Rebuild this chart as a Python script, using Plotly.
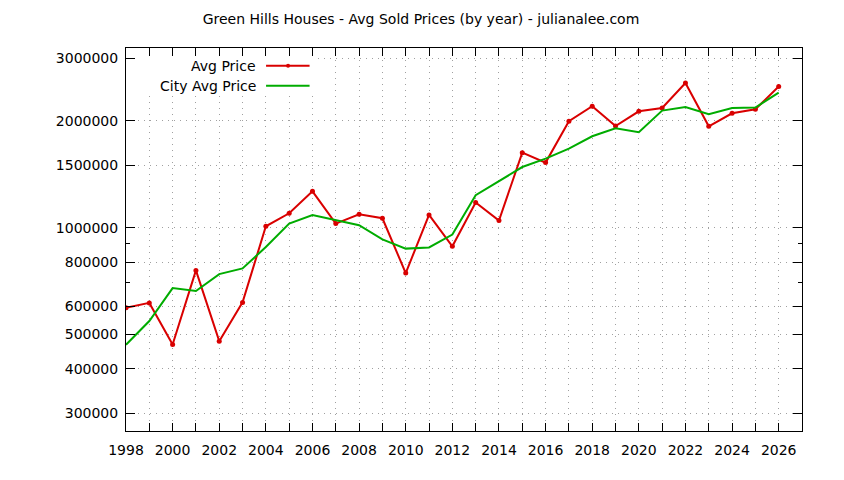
import math
import plotly.graph_objects as go

years = list(range(1998, 2027))
avg_price = [595000, 614000, 469000, 758000, 479000, 616000, 1009000, 1098000, 1266000, 1027000,
             1091000, 1063000, 745000, 1086000, 886000, 1177000, 1047000, 1627000, 1525000, 1995000,
             2198000, 1934000, 2127000, 2174000, 2556000, 1930000, 2100000, 2155000, 2497000]
city_avg_price = [468000, 546000, 676000, 663000, 740000, 768000, 882000, 1027000, 1086000, 1049000,
                  1016000, 927000, 873000, 880000, 956000, 1234000, 1351000, 1482000, 1565000, 1670000,
                  1809000, 1905000, 1857000, 2137000, 2187000, 2086000, 2174000, 2180000, 2402000]
y_ticks = [300000, 400000, 500000, 600000, 800000, 1000000, 1500000, 2000000, 3000000]
y_minor = [700000, 900000]
x_ticks = list(range(1998, 2027))
x_labels = [str(y) if y % 2 == 0 else "" for y in x_ticks]
series_names = ["Avg Price", "City Avg Price"]

RED = "#d90000"
GREEN = "#00ac00"
FONT = "DejaVu Sans"
OFF = 8  # page body margin
W, H = 844 - OFF, 480 - OFF
L, T = 126 - OFF, 48 - OFF
R = W - (801.7 - OFF)
B = H - (431 - OFF)
X_RANGE = [1998, 2027]
Y_RANGE = [math.log10(267500), math.log10(3207000)]

fig = go.Figure()
fig.add_trace(go.Scatter(x=years, y=avg_price, name=series_names[0], mode="lines+markers",
                         line=dict(color=RED, width=2), marker=dict(color=RED, size=5, symbol="circle"),
                         showlegend=False))
fig.add_trace(go.Scatter(x=years, y=city_avg_price, name=series_names[1], mode="lines",
                         line=dict(color=GREEN, width=2), showlegend=False))

pw = W - L - R
ph = H - T - B
def px_x(x):  # page px -> paper
    return (x - OFF - L) / pw
def px_y(y):
    return (H - B - (y - OFF)) / ph

# opaque key box (hides the grid behind the key, as in gnuplot); axis refs so it sits under traces
bx0 = X_RANGE[0] + px_x(126.5) * (X_RANGE[1] - X_RANGE[0])
bx1 = X_RANGE[0] + px_x(317) * (X_RANGE[1] - X_RANGE[0])
by0 = 10 ** (Y_RANGE[0] + px_y(94) * (Y_RANGE[1] - Y_RANGE[0]))
by1 = 10 ** (Y_RANGE[0] + px_y(48.5) * (Y_RANGE[1] - Y_RANGE[0]))
fig.add_shape(type="rect", xref="x", yref="y", layer="between",
              x0=bx0, x1=bx1, y0=by0, y1=by1,
              fillcolor="white", line=dict(width=0))

rows = [(65.7, RED, True), (85.7, GREEN, False)]
for name, (yy, col, mk) in zip(series_names, rows):
    fig.add_annotation(x=px_x(258), y=px_y(yy), xref="paper", yref="paper", text=name,
                       showarrow=False, xanchor="right", yanchor="middle",
                       font=dict(family=FONT, size=14, color="black"))
    fig.add_shape(type="line", xref="paper", yref="paper", x0=px_x(266), x1=px_x(309.5),
                  y0=px_y(yy), y1=px_y(yy), line=dict(color=col, width=2))
    if mk:
        fig.add_shape(type="circle", xref="paper", yref="paper",
                      x0=px_x(286), x1=px_x(290), y0=px_y(yy + 2), y1=px_y(yy - 2),
                      fillcolor=col, line=dict(color=col, width=0))

grid = dict(gridcolor="#a0a0a0", griddash="1px,5px", gridwidth=1)
fig.update_layout(
    width=W, height=H,
    margin=dict(l=L, r=R, t=T, b=B),
    paper_bgcolor="white", plot_bgcolor="white",
    font=dict(family=FONT, size=14, color="black"),
    title=dict(text="Green Hills Houses - Avg Sold Prices (by year) - julianalee.com",
               x=(421 - OFF) / W, xref="container", xanchor="center",
               y=1 - (19 - OFF) / H, yref="container", yanchor="middle",
               font=dict(family=FONT, size=14, color="black")),
    xaxis=dict(range=X_RANGE, tickmode="array", tickvals=x_ticks, ticktext=x_labels,
               ticks="inside", ticklen=8, tickcolor="black", tickwidth=1, ticklabelstandoff=6,
               tickfont=dict(family=FONT, size=14),
               showline=True, linecolor="black", linewidth=1, mirror="ticks",
               showgrid=True, zeroline=False, **grid),
    yaxis=dict(type="log", range=Y_RANGE,
               tickmode="array", tickvals=y_ticks, ticktext=[str(v) for v in y_ticks],
               ticks="inside", ticklen=9, tickcolor="black", tickwidth=1, ticklabelstandoff=4,
               tickfont=dict(family=FONT, size=14),
               showline=True, linecolor="black", linewidth=1, mirror="ticks",
               showgrid=True, zeroline=False, **grid,
               minor=dict(tickmode="array", tickvals=y_minor, ticks="inside", ticklen=4,
                          tickcolor="black", showgrid=False)),
)

fig.write_html("out.html")
